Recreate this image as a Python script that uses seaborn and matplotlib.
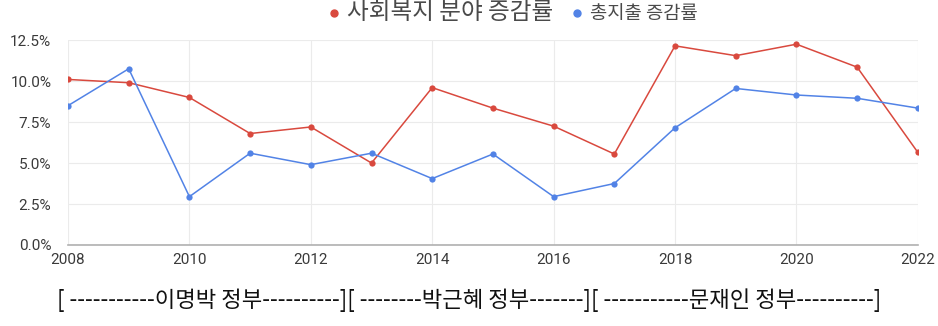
import numpy as np
import pandas as pd
import seaborn as sns
import matplotlib.pyplot as plt
from matplotlib.lines import Line2D
from matplotlib.ticker import FuncFormatter

# values (% change per year)
years = list(range(2008, 2023))
welfare = [10.1, 9.9, 9.0, 6.8, 7.2, 5.0, 9.6, 8.35, 7.25, 5.55, 12.15, 11.55, 12.25, 10.85, 5.65]
total = [8.5, 10.75, 2.95, 5.6, 4.9, 5.6, 4.05, 5.55, 2.95, 3.75, 7.15, 9.55, 9.15, 8.95, 8.35]
series_names = ["사회복지 분야 증감률", "총지출 증감률"]
gov_label = "[ -----------이명박 정부----------][ --------박근혜 정부-------][ -----------문재인 정부----------]"

colors = ["#d9493e", "#5283e6"]

sns.set_theme(style="whitegrid")
plt.rcParams['font.family'] = ['Noto Sans CJK KR', 'DejaVu Sans']

df = pd.DataFrame({
    "year": years * 2,
    "value": welfare + total,
    "series": [series_names[0]] * len(years) + [series_names[1]] * len(years),
})

fig = plt.figure(figsize=(9.38, 3.26), dpi=100)
ax = fig.add_axes([0.0725, 0.2485, 0.906, 0.6285])

sns.lineplot(data=df, x="year", y="value", hue="series", palette=colors,
             marker="o", markersize=4.5, markeredgewidth=0, linewidth=1.1,
             legend=False, ax=ax)

ax.set_xlim(2008, 2022)
ax.set_ylim(0, 12.5)
ax.set_xticks(range(2008, 2023, 2))
ax.set_yticks(np.arange(0, 12.6, 2.5))
ax.yaxis.set_major_formatter(FuncFormatter(lambda v, p: f"{v:.1f}%"))
ax.set_xlabel("")
ax.set_ylabel("")
ax.grid(color="#ebebeb", linewidth=0.8)
for s in ["top", "right", "left"]:
    ax.spines[s].set_visible(False)
ax.spines["bottom"].set_color("#b0b0b0")
ax.spines["bottom"].set_linewidth(1.2)
ax.tick_params(axis="both", labelsize=11, colors="#3a3a3a", length=0)
ax.tick_params(axis="x", pad=6)
ax.tick_params(axis="y", pad=12)
for t in ax.get_xticklabels() + ax.get_yticklabels():
    t.set_family(['Roboto', 'DejaVu Sans'])

handles = [Line2D([], [], color=c, marker="o", linestyle="", markersize=5) for c in colors]
leg = fig.legend(handles, series_names, loc="upper center", bbox_to_anchor=(0.545, 1.04),
                 ncol=2, frameon=False, handletextpad=0.3, columnspacing=0.9,
                 handlelength=1.2)
leg.get_texts()[0].set_fontsize(17)
leg.get_texts()[1].set_fontsize(13.5)
for t in leg.get_texts():
    t.set_color("#4a4a4a")

fig.text(0.5, 0.08, gov_label, ha="center", va="center", fontsize=16, color="#111111")

fig.savefig("out.png", dpi=100)
